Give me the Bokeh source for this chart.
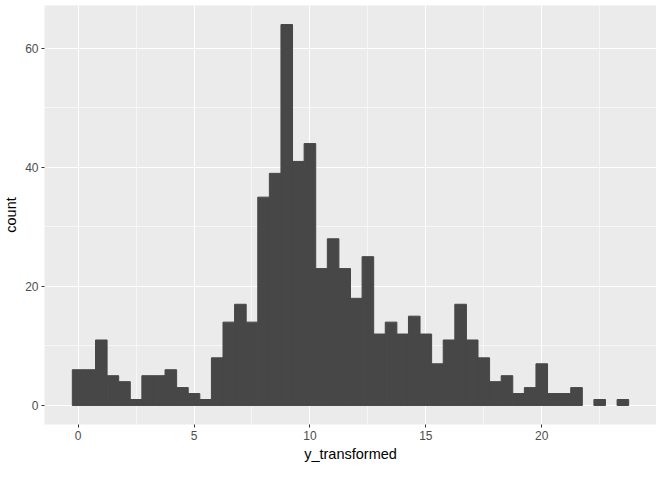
from bokeh.plotting import figure
from bokeh.models import FixedTicker, Range1d
from bokeh.embed import file_html
from bokeh.resources import INLINE

# Histogram data (bin width 0.5, bins centred on multiples of 0.5)
bin_width = 0.5
bin_centers = [i * 0.5 for i in range(48)]
counts = [6, 6, 11, 5, 4, 1, 5, 5, 6, 3, 2, 1, 8, 14, 17, 14, 35, 39, 64, 41,
          44, 23, 28, 23, 18, 25, 12, 14, 12, 15, 12, 7, 11, 17, 11, 8, 4, 5, 2, 3,
          7, 2, 2, 3, 0, 1, 0, 1]

x_ticks = [0, 5, 10, 15, 20]
x_minor = [2.5, 7.5, 12.5, 17.5, 22.5]
y_ticks = [0, 20, 40, 60]
y_minor = [10, 30, 50]

lefts = [c - bin_width / 2 for c in bin_centers]
rights = [c + bin_width / 2 for c in bin_centers]
xmin, xmax = min(lefts), max(rights)
xpad = (xmax - xmin) * 0.05
ymax = max(counts)
ypad = ymax * 0.05

# only non-empty bins get drawn (empty bins leave no mark)
keep = [i for i, c in enumerate(counts) if c > 0]
q_left = [lefts[i] for i in keep]
q_right = [rights[i] for i in keep]
q_top = [counts[i] for i in keep]

p = figure(width=656, height=464, output_backend="svg", toolbar_location=None,
           x_range=Range1d(xmin - xpad, xmax + xpad),
           y_range=Range1d(-ypad, ymax + ypad),
           min_border_left=0, min_border_right=0, min_border_top=5,
           min_border_bottom=0)

p.background_fill_color = "#EBEBEB"
p.border_fill_color = "white"
p.outline_line_color = None

bar_color = "#474747"
p.quad(left=q_left, right=q_right, bottom=[0] * len(q_top), top=q_top,
       fill_color=bar_color, line_color=bar_color, line_width=1.0)

p.xaxis.ticker = FixedTicker(ticks=x_ticks, minor_ticks=x_minor)
p.yaxis.ticker = FixedTicker(ticks=y_ticks, minor_ticks=y_minor)

for grid in (p.xgrid, p.ygrid):
    grid.grid_line_color = "white"
    grid.grid_line_width = 1.1
    grid.minor_grid_line_color = "white"
    grid.minor_grid_line_width = 0.55

for ax in (p.xaxis, p.yaxis):
    ax.axis_line_color = None
    ax.major_tick_line_color = "#333333"
    ax.major_tick_line_width = 1
    ax.major_tick_out = 3
    ax.major_tick_in = 0
    ax.minor_tick_line_color = None
    ax.major_label_text_font = "Liberation Sans"
    ax.major_label_text_font_size = "12px"
    ax.major_label_text_color = "#4D4D4D"
    ax.major_label_standoff = 2
    ax.axis_label_text_font = "Liberation Sans"
    ax.axis_label_text_font_size = "14.5px"
    ax.axis_label_text_font_style = "normal"
    ax.axis_label_text_color = "black"
    ax.axis_label_standoff = 3

p.xaxis.axis_label = "y_transformed"
p.yaxis.axis_label = "count"

open("out.html", "w").write(file_html(p, INLINE))
